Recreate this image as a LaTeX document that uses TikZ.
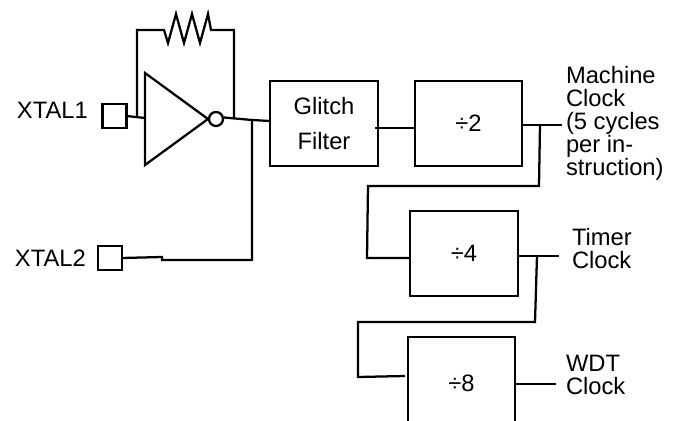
\documentclass[tikz,border=0pt]{standalone}
\usepackage{fontspec}
\setmainfont{Liberation Sans}
\tikzset{
    wire/.style={line width=1.7pt},
    blockbox/.style={draw, line width=1.7pt, inner sep=0pt, outer sep=0pt, align=center},
    padbox/.style={draw, line width=1.7pt, inner sep=0pt, outer sep=0pt, minimum size=18pt},
    lbl/.style={inner sep=0pt, outer sep=0pt, align=left, anchor=west, font=\fontsize{17.8}{17.2}\selectfont}
}
\begin{document}
\begin{tikzpicture}[x=0.75pt, y=-0.75pt, font=\fontsize{17.8}{17.2}\selectfont]
    % Page of the picture, the lowest block runs off its bottom edge
    \clip (0,0) rectangle (676,421);

    % Pads
    \node[padbox] (pad1) at (114.5,116) {};
    \node[padbox] (pad2) at (110,258) {};
    \node[anchor=east, inner sep=0pt] (xtal1) at (88,110) {XTAL1};
    \node[anchor=east, inner sep=0pt] (xtal2) at (86,258) {XTAL2};

    % Inverter with its bubble
    \coordinate (invin) at (145,118);
    \draw[wire, line join=miter] (145,73) -- (208,119) -- (145,165) -- cycle;
    \node[draw, circle, line width=1.7pt, minimum size=10.5pt, inner sep=0pt, outer sep=0pt] (bubble) at (216,119) {};

    % Blocks
    \node[blockbox, minimum width=81pt, minimum height=64pt] (glitch) at (324,123.5) {Glitch\\[9pt]Filter};
    \node[blockbox, minimum width=80pt, minimum height=64pt] (div2) at (468.5,123.5) {÷2};
    \node[blockbox, minimum width=81pt, minimum height=64pt] (div4) at (464,253.5) {÷4};
    \node[blockbox, minimum width=80pt, minimum height=70pt] (div8) at (461.5,383.5) {÷8};

    % Feedback resistor
    \coordinate (fbl) at (137,117);
    \coordinate (fbr) at (234,118);
    \draw[wire] (fbl) -- (137,30) -- (164,30) -- (168,43) -- (176,14) -- (184,43) -- (192,14)
        -- (200,43) -- (208,14) -- (211,30) -- (234,30) -- (fbr);

    % Input and output of the inverter
    \coordinate (invout) at (224,117.5);
    \coordinate (outj) at (252,120);
    \coordinate (gin) at (270,121);
    \draw[wire] (pad1.east) -- (invin);
    \draw[wire] (invout) -- (outj) -- (gin);
    \draw[wire] (pad2.east) -- (162,257) -- (162,260) -- (252,260) -- (outj);

    % Chain of dividers
    \coordinate (gout) at (375,128);
    \coordinate (mclk) at (562,125);
    \coordinate (mj) at (540,125);
    \coordinate (tclk) at (559,256);
    \coordinate (tj) at (537,256);
    \coordinate (wclk) at (556,384);
    \draw[wire] (gout) -- (div2.west |- gout);
    \draw[wire] (div2.east |- mclk) -- (mclk);
    \draw[wire] (mj) -- (539,186) -- (368,186) -- (367,258) -- (div4.west |- 0,258);
    \draw[wire] (div4.east |- tclk) -- (tclk);
    \draw[wire] (tj) -- (535,322) -- (358,322) -- (358,377) -- (405,376);
    \draw[wire] (div8.east |- wclk) -- (wclk);

    % Output labels
    \node[lbl] (machine) at (566,123) {Machine\\Clock\\(5 cycles\\per in-\\struction)};
    \node[lbl] (timer) at (572,248.5) {Timer\\Clock};
    \node[lbl] (wdt) at (566,374.5) {WDT\\Clock};
\end{tikzpicture}
\end{document}
